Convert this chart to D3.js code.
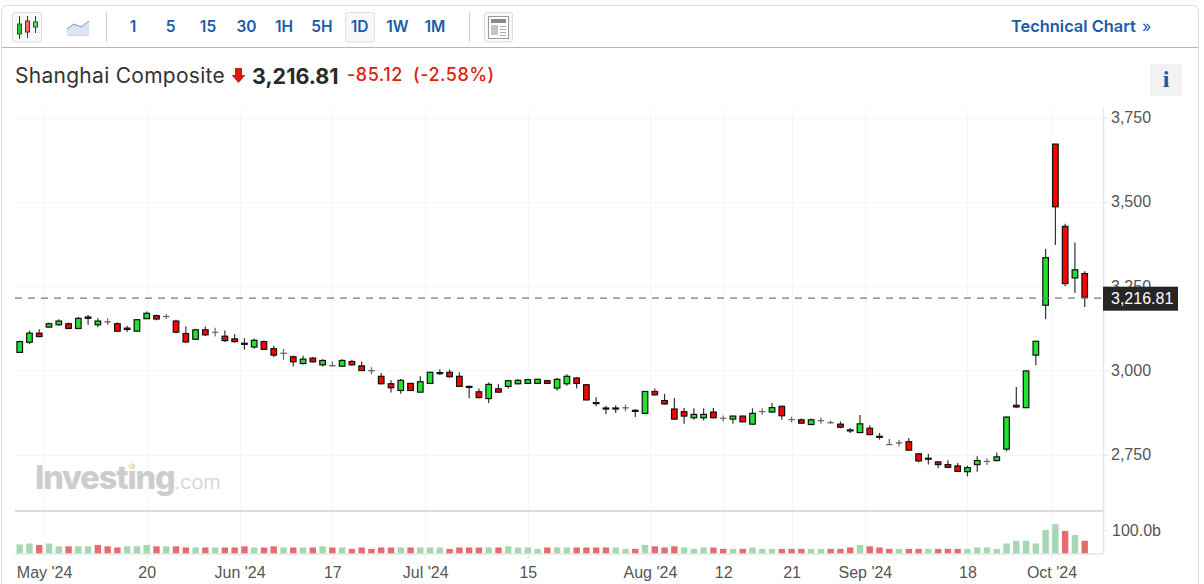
<!DOCTYPE html>
<html>
<head>
<meta charset="utf-8">
<script src="https://cdn.jsdelivr.net/npm/d3@7"></script>
<style>
  html, body { margin: 0; padding: 0; background: #fff; }
  svg { display: block; }
  text { font-family: "Liberation Sans", Arial, sans-serif; }
  .ui { font-family: Inter, "Noto Sans", sans-serif; }
</style>
</head>
<body>
<svg id="chart" width="1204" height="584"></svg>
<script>
// Shanghai Composite daily candles.
const opens = [3053,3083,3110,3128,3135,3138,3124,3158,3135,3144,3138,3125,3116,3153,3162,3160,3146,3109,3092,3120,3113,3101,3093,3080,3069,3085,3064,3051,3040,
  3020,3036,3016,3014,3012,3026,3013,2999,2982,2960,2940,2961,2935,2961,2993,2994,2982,2952,2936,2916,2945,2952,2960,2961,2961,2969,2947,2960,2977,2957,2904,
  2888,2888,2889,2881,2872,2937,2910,2885,2877,2859,2859,2876,2858,2855,2864,2840,2878,2876,2893,2854,2853,2839,2851,2845,2840,2823,2815,2828,2804,
  2780,2785,2788,2752,2739,2728,2720,2716,2699,2720,2730,2732,2766,2896,2889,3045,3193,3671,3427,3274,3287];
const highs = [3088,3118,3122,3142,3151,3142,3158,3164,3154,3154,3142,3132,3152,3174,3165,3167,3150,3130,3123,3130,3126,3118,3107,3095,3094,3089,3073,3063,3044,
  3043,3039,3033,3026,3033,3031,3026,3009,2992,2970,2974,2962,2982,2995,3003,3002,2994,2954,2946,2964,2959,2972,2974,2975,2975,2972,2977,2988,2980,2959,2920,
  2895,2896,2898,2885,2938,2946,2930,2918,2888,2887,2887,2888,2866,2865,2865,2887,2887,2903,2895,2862,2857,2857,2860,2851,2848,2829,2867,2837,2814,
  2796,2794,2799,2754,2752,2730,2733,2725,2717,2745,2739,2756,2863,2950,2999,3087,3360,3672,3435,3379,3294];
const lows = [3051,3078,3098,3126,3132,3122,3122,3135,3128,3134,3114,3114,3114,3152,3148,3152,3110,3082,3090,3102,3100,3084,3082,3061,3064,3060,3039,3031,3011,
  3017,3023,3011,3011,3010,3013,2998,2988,2958,2934,2930,2938,2934,2960,2986,2978,2950,2917,2916,2903,2933,2946,2958,2959,2959,2959,2939,2954,2946,2911,2893,
  2870,2873,2878,2861,2871,2925,2898,2853,2841,2853,2851,2857,2848,2841,2846,2838,2868,2874,2853,2845,2841,2838,2841,2841,2828,2814,2814,2807,2794,
  2778,2774,2761,2727,2720,2709,2709,2698,2685,2699,2719,2730,2759,2889,2888,3015,3152,3372,3249,3229,3188];
const closes = [3085,3110,3100,3138,3146,3124,3154,3154,3146,3143,3116,3121,3150,3169,3152,3159,3113,3084,3120,3105,3112,3088,3085,3077,3089,3062,3045,3050,3025,
  3033,3025,3029,3013,3029,3016,2999,2998,2960,2948,2970,2940,2966,2994,2990,2981,2952,2949,2919,2958,2935,2969,2970,2972,2973,2961,2973,2982,2961,2912,2901,
  2885,2885,2888,2878,2937,2927,2900,2855,2864,2869,2869,2859,2857,2864,2847,2872,2877,2889,2865,2853,2843,2853,2850,2844,2831,2820,2841,2809,2801,
  2779,2784,2763,2731,2736,2720,2712,2700,2711,2732,2729,2743,2861,2891,2998,3086,3334,3485,3257,3298,3216.81];
// volume in billions, u = up bar, d = down bar
const volumes = [41,45,39,45,33,33,33,33,39,33,28,33,33,39,33,33,33,28,28,28,28,28,28,33,28,28,33,28,28,28,28,33,28,28,22,28,22,28,28,28,28,28,28,28,22,28,28,28,28,28,33,28,28,22,28,28,28,28,28,28,
  28,28,22,22,39,33,28,33,28,22,28,28,22,22,22,28,22,22,22,22,22,22,22,22,22,28,39,33,28,22,22,22,22,22,22,22,22,22,28,28,22,45,57,57,45,103,128,99,81,57];
const volumeDirs = ('uuduuduudd' + 'duuududdud' + 'uddduddudu' + 'dududddddu' + 'duuuddddud' + 'uuuuduuddd' +
  'duududdduu' + 'uddududuud'.slice(0, 6) + 'uudd' + 'duuddduddd' + 'uddudddu' + 'uu' + 'uuuuuuudud').split('');
const priceTicks = [3750, 3500, 3250, 3000, 2750];
const timeTicks = [2.5, 13, 22.5, 32, 41.5, 52, 64.5, 72, 79, 86.5, 97, 105.6];
const timeLabels = ["May '24", '20', "Jun '24", '17', "Jul '24", '15', "Aug '24", '12', '21', "Sep '24", '18', "Oct '24"];
const intervals = ['1', '5', '15', '30', '1H', '5H', '1D', '1W', '1M'];
const intervalX = [133, 170.7, 208, 246.5, 284, 322, 359.5, 397.5, 435];
const lastPrice = 3216.81;

const UP = '#20e22f', DOWN = '#ff0000', BLUE = '#1a5ca8';
const svg = d3.select('#chart');

const x = d3.scaleLinear().domain([0, 109]).range([19.7, 1084.7]);
const y = d3.scaleLinear().domain([2750, 3750]).range([454.5, 117.5]);
const yVol = d3.scaleLinear().domain([0, 100]).range([554, 530.7]);
const RIGHT = 1103, LEFT = 15, BOTTOM = 554;

drawFrame();
drawToolbar();
drawTitle();
drawGrid();
drawWatermark();
drawVolume();
drawCandles();
drawAxes();

function drawFrame() {
  svg.append('rect').attr('x', 1.5).attr('y', 5.5).attr('width', 1197).attr('height', 600)
    .attr('rx', 6).attr('fill', '#fff').attr('stroke', '#dcdcdc');
  svg.append('line').attr('x1', 2).attr('x2', 1198).attr('y1', 47.5).attr('y2', 47.5)
    .attr('stroke', '#b5b5b5');
}

function button(bx, w) {
  svg.append('rect').attr('x', bx + 0.5).attr('y', 12.5).attr('width', w).attr('height', 29.5)
    .attr('rx', 2.5).attr('fill', '#f7f7f7').attr('stroke', '#dedede');
}

function drawToolbar() {
  button(12, 29);
  // candle icon
  [[19.5, 24, 34, 16, 39, '#22c52e', '#0a6b14'], [27.5, 21, 32, 16, 38, '#ff6b6b', '#a01010'], [35.5, 22, 27, 16, 33, '#5fdc68', '#0a6b14']]
    .forEach(([cx, t, b, wt, wb, f, s]) => {
      svg.append('line').attr('x1', cx).attr('x2', cx).attr('y1', wt).attr('y2', wb).attr('stroke', '#333');
      svg.append('rect').attr('x', cx - 2).attr('y', t).attr('width', 4).attr('height', b - t)
        .attr('fill', f).attr('stroke', s);
    });
  // area icon
  svg.append('path').attr('d', 'M67 29 L74 24 L81 27 L89 21 L89 35 L67 35 Z').attr('fill', '#dbe5f3');
  svg.append('path').attr('d', 'M67 29 L74 24 L81 27 L89 21').attr('fill', 'none').attr('stroke', '#6f93c4');
  svg.append('line').attr('x1', 67).attr('x2', 89).attr('y1', 35.5).attr('y2', 35.5).attr('stroke', '#cfd6e2');

  [106.5, 469.5].forEach(lx => {
    svg.append('line').attr('x1', lx).attr('x2', lx).attr('y1', 12).attr('y2', 42).attr('stroke', '#cfcfcf');
  });

  button(345, 29);
  intervals.forEach((label, i) => {
    svg.append('text').attr('class', 'ui').attr('x', intervalX[i]).attr('y', 32)
      .attr('text-anchor', 'middle').attr('font-size', 15.5).attr('font-weight', 600)
      .attr('fill', BLUE).text(label);
  });

  // layout icon
  button(484, 28);
  svg.append('rect').attr('x', 488.5).attr('y', 16.5).attr('width', 20).attr('height', 22)
    .attr('fill', '#fff').attr('stroke', '#9a9a9a');
  svg.append('rect').attr('x', 491).attr('y', 19).attr('width', 15).attr('height', 4).attr('fill', '#8a8a8a');
  svg.append('rect').attr('x', 491).attr('y', 25).attr('width', 7).attr('height', 10).attr('fill', '#c4c4c4');
  [26, 29, 32, 35].forEach(ly => {
    svg.append('line').attr('x1', 500).attr('x2', 506).attr('y1', ly + 0.5).attr('y2', ly + 0.5).attr('stroke', '#aaa');
  });

  svg.append('text').attr('class', 'ui').attr('x', 1011).attr('y', 32)
    .attr('font-size', 16.4).attr('font-weight', 600).attr('fill', BLUE).text('Technical Chart');
  svg.append('text').attr('class', 'ui').attr('x', 1142).attr('y', 32)
    .attr('font-size', 16).attr('fill', BLUE).text('»');
}

function drawTitle() {
  svg.append('text').attr('class', 'ui').attr('x', 15).attr('y', 83)
    .attr('font-size', 21).attr('letter-spacing', 0.28).attr('fill', '#333').text('Shanghai Composite');
  svg.append('path').attr('d', 'M235 68 L242 68 L242 75 L245.5 75 L238.5 83 L231.5 75 L235 75 Z').attr('fill', '#d8180c');
  svg.append('text').attr('class', 'ui').attr('x', 252).attr('y', 84)
    .attr('font-size', 21.5).attr('font-weight', 700).attr('fill', '#2a2a2a').text('3,216.81');
  svg.append('text').attr('class', 'ui').attr('x', 347).attr('y', 81)
    .attr('font-size', 18).attr('letter-spacing', 0.5).attr('font-weight', 500).attr('fill', '#e0200f').text('-85.12');
  svg.append('text').attr('class', 'ui').attr('x', 413).attr('y', 81)
    .attr('font-size', 18).attr('letter-spacing', 0.5).attr('font-weight', 500).attr('fill', '#e0200f').text('(-2.58%)');
  svg.append('rect').attr('x', 1150).attr('y', 64).attr('width', 32).attr('height', 32).attr('fill', '#f2f2f2');
  svg.append('text').attr('x', 1166).attr('y', 87).attr('text-anchor', 'middle')
    .style('font-family', '"Liberation Serif", serif')
    .attr('font-size', 24).attr('font-weight', 700).attr('fill', BLUE).text('i');
}

function drawGrid() {
  const grid = svg.append('g').attr('stroke', '#f5f6f8');
  grid.selectAll('.h').data(priceTicks).join('line')
    .attr('x1', LEFT).attr('x2', RIGHT)
    .attr('y1', d => Math.round(y(d)) + 0.5).attr('y2', d => Math.round(y(d)) + 0.5);
  grid.selectAll('.v').data(timeTicks).join('line')
    .attr('x1', d => Math.round(x(d)) + 0.5).attr('x2', d => Math.round(x(d)) + 0.5)
    .attr('y1', 108).attr('y2', BOTTOM);
}

function drawWatermark() {
  const mark = svg.append('text').attr('class', 'ui').attr('x', 35).attr('y', 489)
    .attr('font-size', 32.5).attr('letter-spacing', -1.15);
  mark.append('tspan').attr('font-weight', 800).attr('fill', '#cdcdcd').text('Investing');
  mark.append('tspan').attr('font-weight', 300).attr('font-size', 20).attr('letter-spacing', 0).attr('fill', '#cfcfcf').text('.com');
  svg.append('path').attr('d', 'M128 465 L133 462.5 L133 468 L128 468 Z').attr('fill', '#fbe8c6');
}

function drawVolume() {
  svg.append('line').attr('x1', LEFT).attr('x2', RIGHT).attr('y1', 511).attr('y2', 511)
    .attr('stroke', '#dddddd').attr('stroke-width', 2);
  svg.append('g').selectAll('rect').data(volumes).join('rect')
    .attr('x', (d, i) => x(i) - 3.2)
    .attr('width', 6.4)
    .attr('y', d => yVol(d))
    .attr('height', d => yVol(0) - yVol(d))
    .attr('fill', (d, i) => volumeDirs[i] === 'u' ? '#a6d7b3' : '#e46c6c');
}

function drawCandles() {
  const g = svg.append('g');
  const rows = closes.map((c, i) => ({ i, o: opens[i], h: highs[i], l: lows[i], c }));
  const flat = d => Math.abs(d.o - d.c) <= 1;
  g.selectAll('line').data(rows).join('line')
    .attr('x1', d => x(d.i)).attr('x2', d => x(d.i))
    .attr('y1', d => y(d.h)).attr('y2', d => y(d.l))
    .attr('stroke', d => flat(d) ? '#666' : '#333').attr('stroke-width', 1.2);
  g.selectAll('rect').data(rows).join('rect')
    .attr('x', d => x(d.i) - 2.8)
    .attr('width', 5.6)
    .attr('y', d => y(Math.max(d.o, d.c)))
    .attr('height', d => Math.max(0.4, Math.abs(y(d.o) - y(d.c))))
    .attr('fill', d => d.c >= d.o ? UP : DOWN)
    .attr('stroke', d => flat(d) ? '#666' : '#111')
    .attr('stroke-width', d => flat(d) ? 0.8 : 1.2);
}

function drawAxes() {
  svg.append('line').attr('x1', RIGHT + 0.5).attr('x2', RIGHT + 0.5).attr('y1', 108).attr('y2', BOTTOM)
    .attr('stroke', '#e3e6ee').attr('stroke-width', 1.5);
  svg.append('line').attr('x1', LEFT).attr('x2', RIGHT).attr('y1', BOTTOM).attr('y2', BOTTOM)
    .attr('stroke', '#e3e6ee').attr('stroke-width', 1.5);

  const yAxis = d3.axisRight(y).tickValues(priceTicks).tickFormat(d3.format(',')).tickSize(5).tickPadding(2);
  const ya = svg.append('g').attr('transform', `translate(${RIGHT + 1},0)`).call(yAxis);
  ya.select('.domain').remove();
  ya.selectAll('line').attr('stroke', '#e3e6ee');
  ya.selectAll('text').attr('font-size', 16).attr('fill', '#555').style('font-family', '"Liberation Sans", Arial, sans-serif');

  const xAxis = d3.axisBottom(x).tickValues(timeTicks).tickFormat((d, i) => timeLabels[i]).tickSize(5).tickPadding(8);
  const xa = svg.append('g').attr('transform', `translate(0,${BOTTOM})`).call(xAxis);
  xa.select('.domain').remove();
  xa.selectAll('line').attr('stroke', '#e3e6ee');
  xa.selectAll('text').attr('font-size', 16).attr('fill', '#555').style('font-family', '"Liberation Sans", Arial, sans-serif');

  svg.append('line').attr('x1', RIGHT).attr('x2', RIGHT + 5).attr('y1', 530.5).attr('y2', 530.5).attr('stroke', '#e3e6ee');
  svg.append('text').attr('x', 1112).attr('y', 530.5).attr('dy', '0.32em')
    .attr('font-size', 16).attr('fill', '#555').text('100.0b');

  // last price marker
  svg.append('line').attr('x1', LEFT).attr('x2', RIGHT).attr('y1', y(lastPrice) + 1).attr('y2', y(lastPrice) + 1)
    .attr('stroke', '#777').attr('stroke-width', 1.3).attr('stroke-dasharray', '7 6');
  svg.append('rect').attr('x', RIGHT).attr('y', y(lastPrice) - 10.5).attr('width', 75).attr('height', 24)
    .attr('fill', '#262626');
  svg.append('text').attr('x', RIGHT + 8).attr('y', y(lastPrice) + 1.5).attr('dy', '0.32em')
    .attr('font-size', 16).attr('fill', '#fff').text('3,216.81');
}
</script>
</body>
</html>
